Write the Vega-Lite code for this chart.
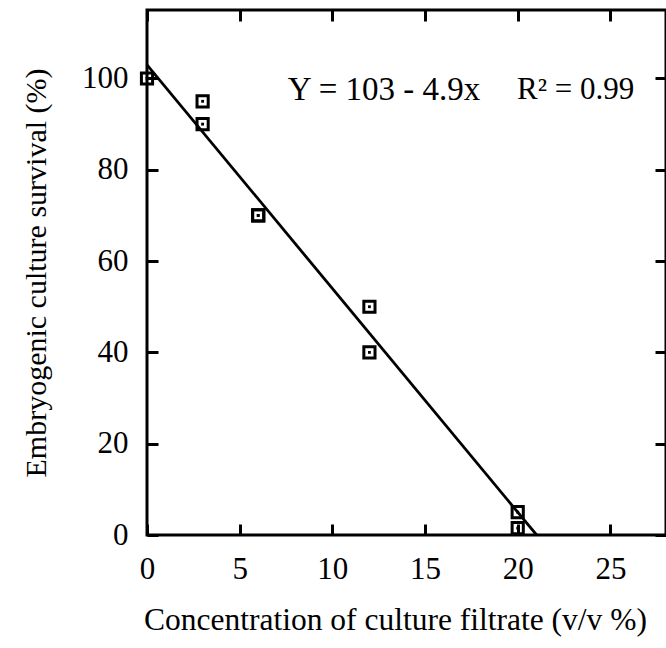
{
  "$schema": "https://vega.github.io/schema/vega-lite/v6.json",
  "width": 519,
  "height": 525,
  "autosize": {"type": "none"},
  "padding": {"left": 147, "top": 10, "right": 0, "bottom": 113},
  "background": "white",
  "config": {
    "view": {"stroke": "black", "strokeWidth": 3},
    "font": "Liberation Serif",
    "axis": {
      "domain": false,
      "grid": false,
      "ticks": true,
      "tickSize": -11,
      "tickWidth": 3,
      "tickColor": "black",
      "labelFlush": false,
      "labelFont": "Liberation Serif",
      "labelFontSize": 31,
      "labelColor": "black",
      "titleFont": "Liberation Serif",
      "titleFontSize": 31,
      "titleFontWeight": "normal",
      "titleColor": "black"
    }
  },
  "datasets": {
    "fit": [{"x": 0, "y": 103}, {"x": 21.02, "y": 0}],
    "obs": [
      {"x": 0, "y": 100},
      {"x": 3, "y": 95},
      {"x": 3, "y": 90},
      {"x": 6, "y": 70},
      {"x": 6, "y": 70},
      {"x": 12, "y": 50},
      {"x": 12, "y": 40},
      {"x": 20, "y": 5},
      {"x": 20, "y": 1.5}
    ],
    "note": [
      {"x": 7.6, "y": 97.5, "label": "Y = 103 - 4.9x", "size": 33},
      {"x": 19.96, "y": 97.5, "label": "R² = 0.99", "size": 31}
    ]
  },
  "layer": [
    {
      "data": {"name": "fit"},
      "mark": {"type": "line", "color": "black", "strokeWidth": 2.8, "clip": true},
      "encoding": {
        "x": {"field": "x", "type": "quantitative", "scale": {"domain": [0, 28], "nice": false, "zero": false},
          "axis": {"orient": "bottom", "values": [0, 5, 10, 15, 20, 25], "title": "Concentration of culture filtrate (v/v %)", "labelPadding": 30, "titlePadding": 20, "titleX": 248, "titleAlign": "center", "titleFontSize": 31.5}},
        "y": {"field": "y", "type": "quantitative", "scale": {"domain": [0, 115], "nice": false, "zero": false},
          "axis": {"orient": "left", "values": [0, 20, 40, 60, 80, 100], "title": "Embryogenic culture survival (%)", "labelPadding": 30, "titlePadding": 30, "titleFontSize": 30}}
      }
    },
    {
      "data": {"name": "obs"},
      "mark": {"type": "point", "shape": "square", "filled": false, "color": "black", "strokeWidth": 3, "size": 125, "opacity": 1, "clip": false},
      "encoding": {
        "x": {"field": "x", "type": "quantitative", "axis": null},
        "y": {"field": "y", "type": "quantitative", "axis": null}
      }
    },
    {
      "data": {"name": "obs"},
      "mark": {"type": "point", "shape": "square", "filled": true, "color": "black", "size": 8, "opacity": 1, "clip": false},
      "encoding": {
        "x": {"field": "x", "type": "quantitative", "axis": null},
        "y": {"field": "y", "type": "quantitative", "axis": null}
      }
    },
    {
      "data": {"name": "note"},
      "mark": {"type": "text", "align": "left", "baseline": "middle", "font": "Liberation Serif", "color": "black"},
      "encoding": {
        "x": {"field": "x", "type": "quantitative", "axis": null},
        "y": {"field": "y", "type": "quantitative", "axis": null},
        "text": {"field": "label"},
        "size": {"field": "size", "type": "quantitative", "scale": null}
      }
    },
    {
      "data": {"name": "fit"},
      "mark": {"type": "point", "opacity": 0},
      "encoding": {
        "x": {"field": "x", "type": "quantitative", "axis": {"orient": "top", "values": [0, 5, 10, 15, 20, 25], "labels": false, "title": null}},
        "y": {"field": "y", "type": "quantitative", "axis": {"orient": "right", "values": [0, 20, 40, 60, 80, 100], "labels": false, "title": null}}
      }
    }
  ],
  "resolve": {"axis": {"x": "independent", "y": "independent"}}
}
